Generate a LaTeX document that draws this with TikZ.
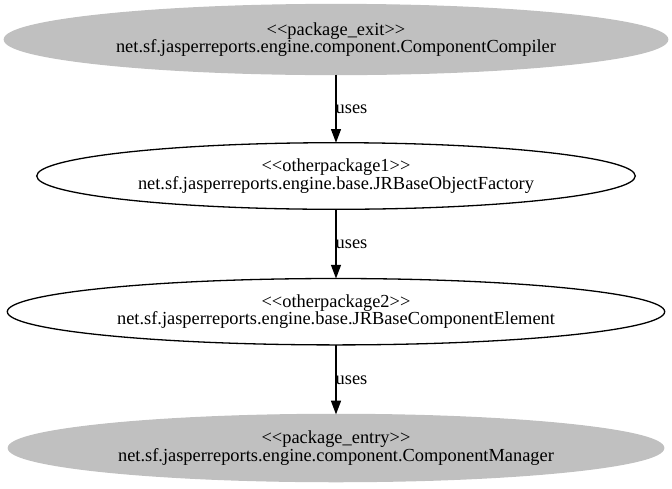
\documentclass[tikz,border=0pt]{standalone}
\usepackage{fontspec}
\setmainfont{Liberation Serif}
\usetikzlibrary{shapes.geometric,arrows.meta}
\definecolor{pkggray}{RGB}{192,192,192}
\tikzset{
  pkg/.style={ellipse, inner sep=0pt, outer sep=0pt, align=center,
    font=\fontsize{18.4}{17.3}\selectfont},
  grayell/.style={pkg, fill=pkggray, draw=pkggray, line width=1.3pt},
  whiteell/.style={pkg, fill=white, draw=black, line width=1.3pt},
  uses/.style={draw=black, line width=1.3pt, -{Triangle[length=13.7pt,width=10pt]}},
  useslabel/.style={anchor=base west, inner sep=0pt, xshift=-1pt,
    font=\fontsize{18.4}{17.3}\selectfont}
}
\newcommand{\myctrline}[1]{\makebox[0pt][c]{#1}}
\begin{document}
\begin{tikzpicture}[x=1pt,y=1pt]
  \useasboundingbox (0,0) rectangle (672,-488);
  \node[grayell, minimum width=663.4pt, minimum height=70pt] (exit) at (336,-39.5)
    {\myctrline{<{}<package\_exit>{}>}\\\myctrline{net.sf.jasperreports.engine.component.ComponentCompiler}};
  \node[whiteell, minimum width=598.6pt, minimum height=66.6pt] (op1) at (336,-176)
    {\myctrline{<{}<otherpackage1>{}>}\\\myctrline{net.sf.jasperreports.engine.base.JRBaseObjectFactory}};
  \node[whiteell, minimum width=657.4pt, minimum height=66.4pt] (op2) at (336,-311.7)
    {\myctrline{<{}<otherpackage2>{}>}\\\myctrline{net.sf.jasperreports.engine.base.JRBaseComponentElement}};
  \node[grayell, minimum width=655.4pt, minimum height=67.2pt] (entry) at (336,-448)
    {\myctrline{<{}<package\_entry>{}>}\\\myctrline{net.sf.jasperreports.engine.component.ComponentManager}};
  \draw[uses] (exit.south) -- node[useslabel, pos=0.57] (l1) {uses} (op1.north);
  \draw[uses] (op1.south) -- node[useslabel, pos=0.57] (l2) {uses} (op2.north);
  \draw[uses] (op2.south) -- node[useslabel, pos=0.57] (l3) {uses} (entry.north);
\end{tikzpicture}
\end{document}
